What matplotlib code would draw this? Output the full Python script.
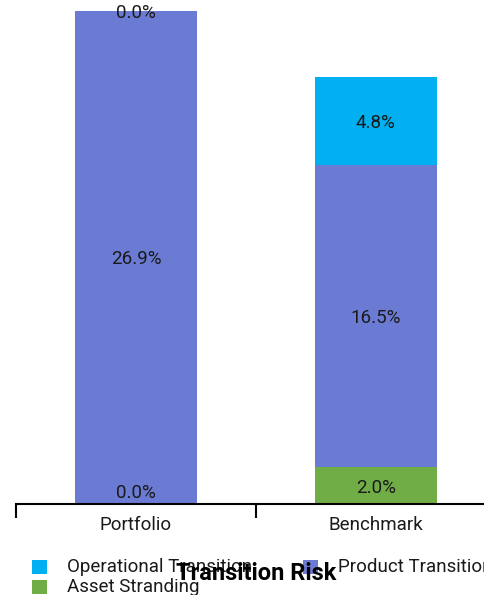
import matplotlib
matplotlib.use("Agg")
import matplotlib.pyplot as plt
from matplotlib.patches import Rectangle

categories = ["Portfolio", "Benchmark"]
series_names = ["Asset Stranding", "Product Transition", "Operational Transition"]
asset_stranding = [0.0, 2.0]
product_transition = [26.9, 16.5]
operational_transition = [0.0, 4.8]
title = "Transition Risk"

colors = {"Asset Stranding": "#70AD47",
          "Product Transition": "#6B7BD4",
          "Operational Transition": "#00B0F0"}

plt.rcParams['font.family'] = ['Roboto', 'DejaVu Sans']
TXT = "#1a1a1a"
FS = 13.5
W, H = 484, 595
fig = plt.figure(figsize=(W / 100, H / 100), dpi=100)
ax = fig.add_axes([16 / W, (H - 504) / H, 480 / W, 504 / H])
ax.set_xlim(-0.5, 1.5)
ax.set_ylim(0, 27.5)

x = list(range(len(categories)))
data = {"Asset Stranding": asset_stranding,
        "Product Transition": product_transition,
        "Operational Transition": operational_transition}
bottom = [0.0] * len(categories)
for name in series_names:
    vals = data[name]
    ax.bar(x, vals, width=0.505, bottom=bottom, color=colors[name], zorder=2)
    for i, v in enumerate(vals):
        if v == 0 and bottom[i] == 0:
            ax.annotate(f"{v:.1f}%", (x[i], 0), xytext=(0, 2), textcoords="offset pixels",
                        ha="center", va="bottom", fontsize=FS, color=TXT)
        else:
            ax.annotate(f"{v:.1f}%", (x[i], bottom[i] + v / 2), xytext=(0, -2),
                        textcoords="offset pixels", ha="center", va="center",
                        fontsize=FS, color=TXT)
    bottom = [b + v for b, v in zip(bottom, vals)]

for s in ["left", "right", "top"]:
    ax.spines[s].set_visible(False)
ax.spines["bottom"].set_linewidth(1.5)
ax.spines["bottom"].set_color("black")
ax.set_yticks([])
ax.set_xticks([-0.5, 0.5, 1.5])
ax.set_xticklabels([])
ax.tick_params(axis="x", which="major", length=10, width=1.5, color="black")
ax.set_xticks(x, minor=True)
ax.set_xticklabels(categories, minor=True)
ax.tick_params(axis="x", which="minor", length=0, pad=9, labelsize=FS, labelcolor=TXT)

# legend (manual placement)
def px(xp, yp):
    return xp / W, 1 - yp / H

legend_items = [("Operational Transition", 32, 567),
                ("Product Transition", 303, 567),
                ("Asset Stranding", 32, 587)]
for name, hx, hy in legend_items:
    fig.patches.append(Rectangle(px(hx, hy + 7), 15 / W, 14 / H, transform=fig.transFigure,
                                 facecolor=colors[name], edgecolor="none"))
    fig.text(*px(hx + 35, hy), name, ha="left", va="center", fontsize=FS, color=TXT)

fig.text(*px(256, 573), title, ha="center", va="center", fontsize=17,
         fontweight="bold", color="black")

fig.savefig("out.png", dpi=100)
